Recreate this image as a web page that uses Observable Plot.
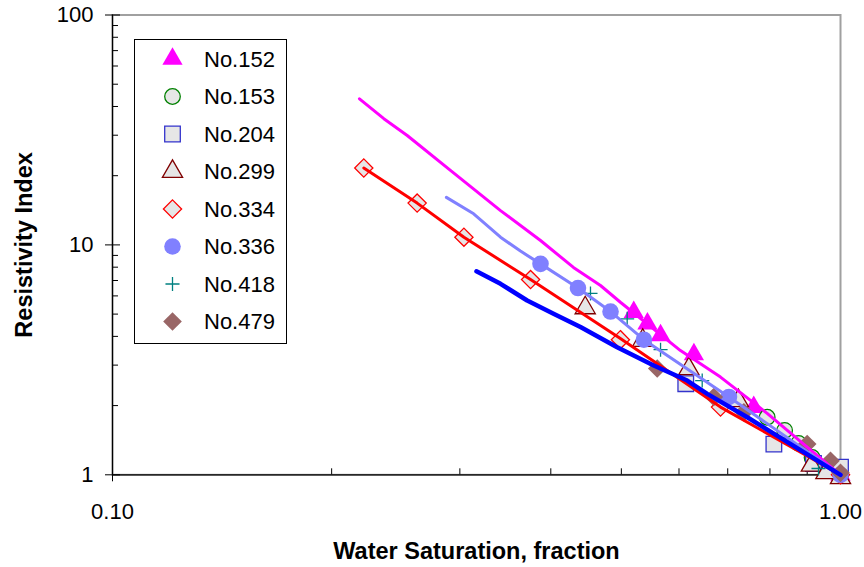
<!DOCTYPE html>
<html>
<head>
<meta charset="utf-8">
<script src="https://cdn.jsdelivr.net/npm/d3@7"></script>
<script src="https://cdn.jsdelivr.net/npm/@observablehq/plot@0.6"></script>
<style>
  body { margin: 0; background: #fff; }
  #chart { width: 864px; height: 567px; }
</style>
</head>
<body>
<div id="chart"></div>
<script>
// Resistivity index vs. water saturation, core samples (log–log)
const samples = ["No.152", "No.153", "No.204", "No.299", "No.334", "No.336", "No.418", "No.479"];

// measured points per sample: water saturation (fraction) and resistivity index
const sw152 = [0.520, 0.543, 0.566, 0.629, 0.760, 1.00];
const ri152 = [5.10, 4.54, 4.04, 3.34, 1.97, 1.00];
const sw153 = [0.793, 0.838, 0.876, 0.914, 1.00];
const ri153 = [1.78, 1.56, 1.37, 1.19, 1.00];
const sw204 = [0.613, 0.810, 0.918, 1.00];
const ri204 = [2.49, 1.36, 1.12, 1.08];
const sw299 = [0.446, 0.535, 0.619, 0.724, 0.912, 0.955, 1.00];
const ri299 = [5.32, 3.84, 2.89, 2.10, 1.10, 1.02, 0.97];
const sw334 = [0.2214, 0.2621, 0.3039, 0.3752, 0.4985, 0.6842, 1.00];
const ri334 = [21.6, 15.2, 10.8, 7.07, 3.87, 1.97, 1.00];
const sw336 = [0.3872, 0.4359, 0.4832, 0.5369, 0.7027, 1.00];
const ri336 = [8.27, 6.49, 5.13, 3.87, 2.18, 1.00];
const sw418 = [0.4535, 0.5093, 0.5660, 0.6457, 0.9328];
const ri418 = [6.15, 4.77, 3.50, 2.57, 1.065];
const sw479 = [0.5601, 0.6699, 0.7366, 0.900, 0.9689, 1.00];
const ri479 = [2.90, 2.18, 1.87, 1.36, 1.15, 1.02];

// continuous drainage curves
const curveSw152 = [0.2184, 0.2359, 0.2540, 0.2912, 0.3412, 0.3872, 0.4297, 0.4681, 0.4985, 0.6028, 0.6842, 0.7930, 0.9000, 1.0];
const curveRi152 = [43.2, 35.4, 29.9, 21.1, 14.1, 10.45, 7.98, 6.66, 5.63, 3.47, 2.66, 1.85, 1.32, 1.0];
const curveSw336 = [0.2875, 0.3134, 0.3412, 0.3634, 0.3872, 0.4359, 0.4832, 0.5369, 0.7027, 1.0];
const curveRi336 = [16.1, 13.65, 10.8, 9.4, 8.27, 6.49, 5.13, 3.87, 2.18, 1.0];
const curveSw334 = [0.2214, 0.2621, 0.3039, 0.3752, 0.4985, 0.6842, 1.0];
const curveRi334 = [21.6, 15.2, 10.8, 7.07, 3.92, 1.97, 1.0];
const curveSw204 = [0.3162, 0.3412, 0.3712, 0.4041, 0.4394, 0.4934, 0.5540, 0.6158, 0.6561, 0.7446, 1.0];
const curveRi204 = [7.68, 6.77, 5.73, 5.01, 4.39, 3.59, 2.99, 2.57, 2.25, 1.78, 1.0];

// axis ticks
const xMajor = [0.1, 1];
const xMinor = [0.2, 0.3, 0.4, 0.5, 0.6, 0.7, 0.8, 0.9];
const yMajor = [1, 10, 100];
const yMinor = [2, 3, 4, 5, 6, 7, 8, 9, 20, 30, 40, 50, 60, 70, 80, 90];

const xTitle = "Water Saturation, fraction";
const yTitle = "Resistivity Index";

const pts = (sw, ri) => sw.map((s, i) => ({sw: s, ri: ri[i]}));
const pointSets = {
  "No.152": pts(sw152, ri152),
  "No.153": pts(sw153, ri153),
  "No.204": pts(sw204, ri204),
  "No.299": pts(sw299, ri299),
  "No.334": pts(sw334, ri334),
  "No.336": pts(sw336, ri336),
  "No.418": pts(sw418, ri418),
  "No.479": pts(sw479, ri479)
};
const curves = [
  {data: pts(curveSw152, curveRi152), stroke: "#FF00FF", width: 3},
  {data: pts(curveSw336, curveRi336), stroke: "#8080FF", width: 3},
  {data: pts(curveSw334, curveRi334), stroke: "#FF0000", width: 3},
  {data: pts(curveSw204, curveRi204), stroke: "#0000FF", width: 4.5}
];

const gray = "#E6E6E6";
const markerStyle = {
  "No.152": {symbol: "triangle", fill: "#FF00FF", stroke: "none", r: 7.5},
  "No.153": {symbol: "circle", fill: gray, stroke: "#008000", r: 7.8},
  "No.204": {symbol: "square", fill: gray, stroke: "#3333CC", r: 8.8},
  "No.299": {symbol: "triangle", fill: gray, stroke: "#800000", r: 7.5},
  "No.334": {symbol: "diamond2", fill: gray, stroke: "#FF0000", r: 8.2},
  "No.336": {symbol: "circle", fill: "#8080FF", stroke: "none", r: 8.3},
  "No.418": {symbol: "plus", fill: "none", stroke: "#008080", r: 4.6},
  "No.479": {symbol: "diamond2", fill: "#996666", stroke: "none", r: 8.4}
};

const font = "'Liberation Sans', Arial, sans-serif";

const marks = [
  Plot.frame({stroke: "#A0A0A0", strokeWidth: 2}),
  Plot.ruleX([xMajor[0]], {stroke: "#000", strokeWidth: 1.2}),
  Plot.ruleY([yMajor[0]], {stroke: "#000", strokeWidth: 1.2}),
  Plot.axisY({ticks: yMajor, tickSize: 7, tickPadding: 12, tickFormat: d => String(d), label: null, fontSize: 22}),
  Plot.axisY({ticks: yMajor, tickSize: -8, tickFormat: () => "", label: null}),
  Plot.axisY({ticks: yMinor, tickSize: -6, tickFormat: () => "", label: null}),
  Plot.axisX({ticks: xMajor, tickSize: 7, tickPadding: 22, tickFormat: d => d.toFixed(2), label: null, fontSize: 22}),
  Plot.axisX({ticks: xMajor, tickSize: -8, tickFormat: () => "", label: null}),
  Plot.axisX({ticks: xMinor, tickSize: -6, tickFormat: () => "", label: null})
];

for (const name of samples) {
  const s = markerStyle[name];
  marks.push(Plot.dot(pointSets[name], {
    x: "sw", y: "ri", symbol: s.symbol, r: s.r,
    fill: s.fill, stroke: s.stroke, strokeWidth: 1.3
  }));
}
for (const c of curves) {
  marks.push(Plot.line(c.data, {x: "sw", y: "ri", stroke: c.stroke, strokeWidth: c.width, curve: "linear"}));
}

marks.push(
  Plot.text([xTitle], {frameAnchor: "bottom", dy: 77, textAnchor: "middle", lineAnchor: "middle", fontWeight: "bold", fontSize: 23.5}),
  Plot.text([yTitle], {frameAnchor: "left", dx: -88, rotate: -90, textAnchor: "middle", lineAnchor: "middle", fontWeight: "bold", fontSize: 23.5})
);

const chart = Plot.plot({
  width: 864,
  height: 567,
  marginLeft: 112,
  marginRight: 24,
  marginTop: 14.5,
  marginBottom: 92.7,
  x: {type: "log", domain: [0.1, 1]},
  y: {type: "log", domain: [1, 100]},
  style: {fontFamily: font, fontSize: "22px", color: "#000", background: "#fff", overflow: "visible"},
  marks
});

// legend box in the upper left of the plot area
const svg = d3.select(chart);
const legend = svg.append("g").attr("font-family", font).attr("font-size", 22).attr("text-anchor", "start");
legend.append("rect")
  .attr("x", 134.5).attr("y", 39.5).attr("width", 152).attr("height", 304)
  .attr("fill", "#fff").attr("stroke", "#000").attr("stroke-width", 1);
const symbolOf = {
  triangle: d3.symbolTriangle, circle: d3.symbolCircle, square: d3.symbolSquare,
  diamond2: d3.symbolDiamond2, plus: d3.symbolPlus
};
samples.forEach((name, i) => {
  const s = markerStyle[name];
  const cy = 59 + i * 37.5;
  legend.append("path")
    .attr("transform", `translate(172.5,${cy})`)
    .attr("d", d3.symbol(symbolOf[s.symbol], Math.PI * s.r * s.r)())
    .attr("fill", s.fill).attr("stroke", s.stroke).attr("stroke-width", 1.3);
  legend.append("text")
    .attr("x", 204).attr("y", cy).attr("dy", "0.35em")
    .attr("text-anchor", "start")
    .attr("fill", "#000").text(name);
});

document.getElementById("chart").appendChild(chart);
</script>
</body>
</html>
